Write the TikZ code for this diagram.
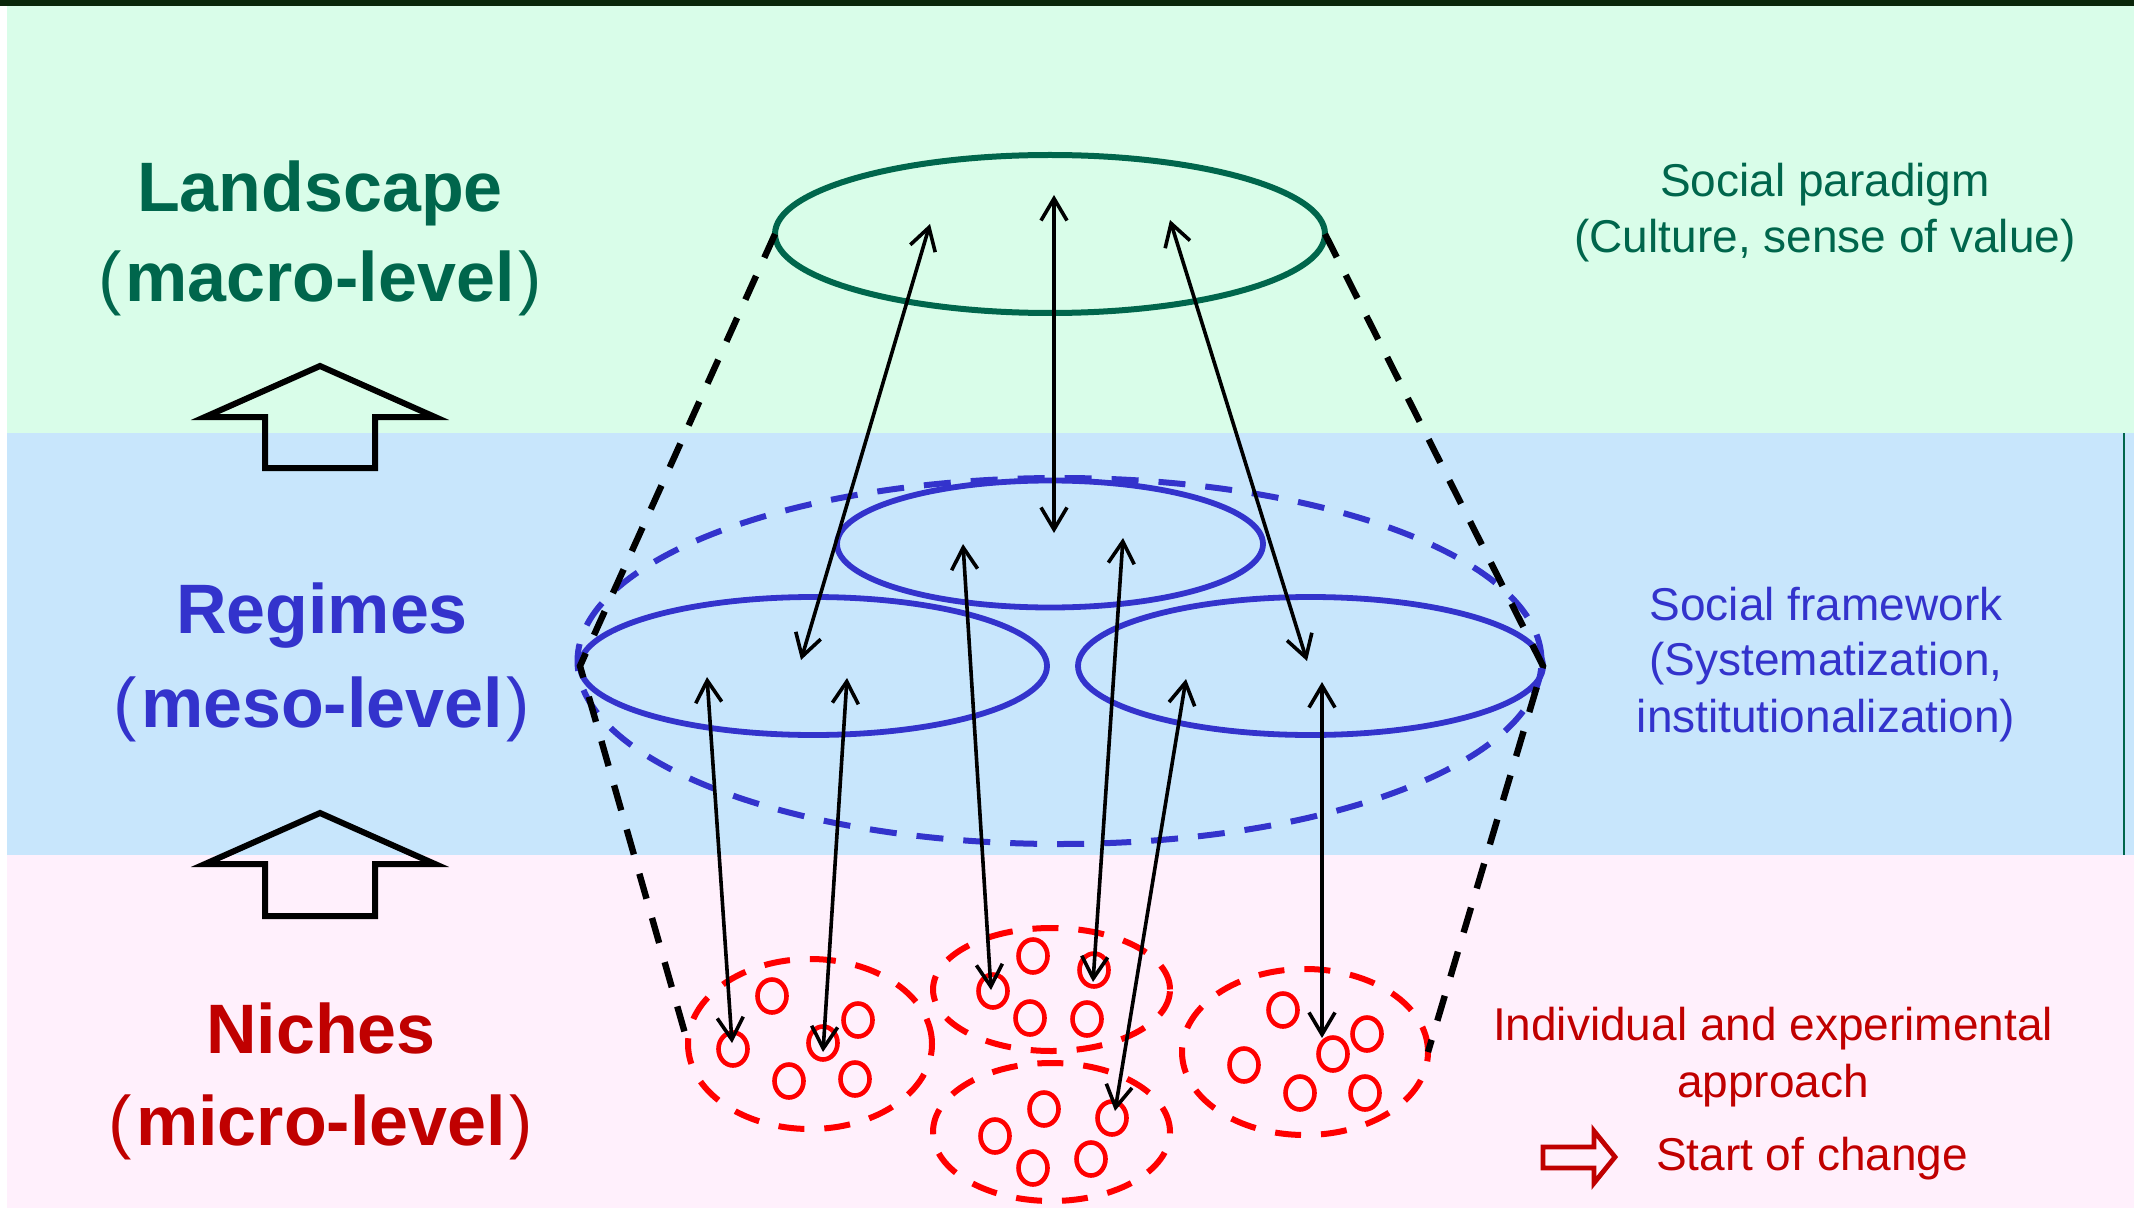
\documentclass[tikz,border=0pt]{standalone}
\usepackage{fontspec}
\setmainfont{Liberation Sans}
\usetikzlibrary{shapes.geometric,arrows.meta}
\definecolor{lgreen}{RGB}{0,102,76}
\definecolor{lblue}{RGB}{51,51,204}
\definecolor{lred}{RGB}{192,0,0}
\definecolor{bggreen}{RGB}{217,253,233}
\definecolor{bgblue}{RGB}{200,230,252}
\definecolor{bgpink}{RGB}{255,240,252}
\definecolor{topbar}{RGB}{10,38,10}
\newcommand\lvlopen{{\mdseries(}\kern2pt}
\newcommand\lvlclose{\kern2pt{\mdseries)}}
\begin{document}
\begin{tikzpicture}[x=0.5pt,y=-0.5pt,
  ell/.style={ellipse,draw,inner sep=0pt,outer sep=0pt},
  landell/.style={ell,draw=lgreen,line width=3pt},
  regell/.style={ell,draw=lblue,line width=2.9pt},
  bigell/.style={ell,draw=lblue,line width=3pt,dash pattern=on 13.5pt off 10pt},
  nicheell/.style={ell,draw=red,line width=3pt,dash pattern=on 13pt off 10pt},
  seed/.style={ell,draw=red,line width=2.3pt,minimum width=14.5pt,minimum height=16.5pt},
  cone/.style={line width=3.2pt,dash pattern=on 13pt off 10pt},
  link/.style={line width=1.8pt,{Straight Barb[length=11pt,width=13pt]}-{Straight Barb[length=11pt,width=13pt]}},
  hollow/.style={line width=3pt,line join=miter},
  lvl/.style={anchor=base,font=\fontsize{35}{42}\selectfont\bfseries},
  desc/.style={anchor=base,font=\fontsize{23}{28}\selectfont},
]
\useasboundingbox (0,0) rectangle (2134,1208);
% backgrounds
\fill[white] (0,0) rectangle (2134,1208);
\fill[bggreen] (7,6) rectangle (2134,433);
\fill[bgblue] (7,433) rectangle (2134,855);
\fill[bgpink] (7,855) rectangle (2134,1208);
\fill[topbar] (0,0) rectangle (2134,6);
\draw[lgreen,line width=1pt] (2124,433) -- (2124,855);

% ellipses
\node[landell,minimum width=275pt,minimum height=79pt] (land) at (1050,234) {};
\node[bigell,minimum width=482pt,minimum height=183pt] (regAll) at (1059.5,661) {};
\node[regell,minimum width=213pt,minimum height=63.5pt] (regT) at (1050,544) {};
\node[regell,minimum width=233.5pt,minimum height=69pt] (regL) at (813.5,666) {};
\node[regell,minimum width=232.5pt,minimum height=69pt] (regR) at (1310.5,666) {};
\node[nicheell,minimum width=122pt,minimum height=85pt] (nL) at (810,1044) {};
\node[nicheell,minimum width=118.5pt,minimum height=61.5pt] (nMT) at (1051.5,989.5) {};
\node[nicheell,minimum width=118.5pt,minimum height=69pt] (nMB) at (1051.5,1132) {};
\node[nicheell,minimum width=123pt,minimum height=83pt] (nR) at (1305,1052) {};

% cone
\draw[cone] (land.west) -- (regL.west) -- (nL.west);
\draw[cone] (land.east) -- (regR.east) -- (nR.east);

% seeds
\node[seed] (s1) at (772,996) {};
\node[seed] (s2) at (733,1049) {};
\node[seed] (s3) at (823,1043) {};
\node[seed] (s4) at (858,1020) {};
\node[seed] (s5) at (789,1081) {};
\node[seed] (s6) at (855,1079) {};
\node[seed] (s7) at (1033,956) {};
\node[seed] (s8) at (993,991) {};
\node[seed] (s9) at (1094,970) {};
\node[seed] (s10) at (1030,1018) {};
\node[seed] (s11) at (1087,1019) {};
\node[seed] (s12) at (1044,1109) {};
\node[seed] (s13) at (995,1136) {};
\node[seed] (s14) at (1112,1118) {};
\node[seed] (s15) at (1033,1168) {};
\node[seed] (s16) at (1091,1159) {};
\node[seed] (s17) at (1283,1010) {};
\node[seed] (s18) at (1367,1034) {};
\node[seed] (s19) at (1244,1065) {};
\node[seed] (s20) at (1333,1054) {};
\node[seed] (s21) at (1300,1093) {};
\node[seed] (s22) at (1365,1093) {};

% arrow end points
\coordinate (a1u) at (930,224);  \coordinate (a1d) at (801,660);
\coordinate (a2u) at (1054,195); \coordinate (a2d) at (1054,533);
\coordinate (a3u) at (1170,220); \coordinate (a3d) at (1307,661);
\coordinate (a4u) at (707,677);  \coordinate (a4d) at (732,1043);
\coordinate (a5u) at (847,678);  \coordinate (a5d) at (823,1052);
\coordinate (a6u) at (963,544);  \coordinate (a6d) at (991,990);
\coordinate (a7u) at (1123,538); \coordinate (a7d) at (1093,982);
\coordinate (a8u) at (1186,679); \coordinate (a8d) at (1115,1111);
\coordinate (a9u) at (1322,682); \coordinate (a9d) at (1322,1038);
\foreach \i in {1,...,9} {\draw[link] (a\i u) -- (a\i d);}

% hollow up arrows
\draw[hollow] (265,468) -- (265,417) -- (205,417) -- (320,366) -- (435,417) -- (375,417) -- (375,468) -- cycle;
\draw[hollow] (265,916) -- (265,864) -- (205,864) -- (320,813) -- (435,864) -- (375,864) -- (375,916) -- cycle;
% start arrow
\draw[hollow,draw=lred,line width=2.4pt] (1543,1147) -- (1594,1147) -- (1594,1131) -- (1615,1157) -- (1594,1183) -- (1594,1168) -- (1543,1168) -- cycle;

% level labels
\node[lvl,text=lgreen] (t1) at (320,212) {Landscape};
\node[lvl,text=lgreen] (t2) at (320,302) {\lvlopen macro-level\lvlclose};
\node[lvl,text=lblue] (t3) at (322,633) {Regimes};
\node[lvl,text=lblue] (t4) at (322,727) {\lvlopen meso-level\lvlclose};
\node[lvl,text=lred] (t5) at (321,1053) {Niches};
\node[lvl,text=lred] (t6) at (321,1145) {\lvlopen micro-level\lvlclose};

% descriptions
\node[desc,text=lgreen] (d1) at (1825,197) {Social paradigm};
\node[desc,text=lgreen] (d2) at (1825,253) {(Culture, sense of value)};
\node[desc,text=lblue] (d3) at (1826,620) {Social framework};
\node[desc,text=lblue] (d4) at (1826,675) {(Systematization,};
\node[desc,text=lblue] (d5) at (1826,732) {institutionalization)};
\node[desc,text=lred] (d6) at (1773,1040) {Individual and experimental};
\node[desc,text=lred] (d7) at (1773,1097) {approach};
\node[desc,text=lred] (d8) at (1812,1170) {Start of change};
\end{tikzpicture}
\end{document}
